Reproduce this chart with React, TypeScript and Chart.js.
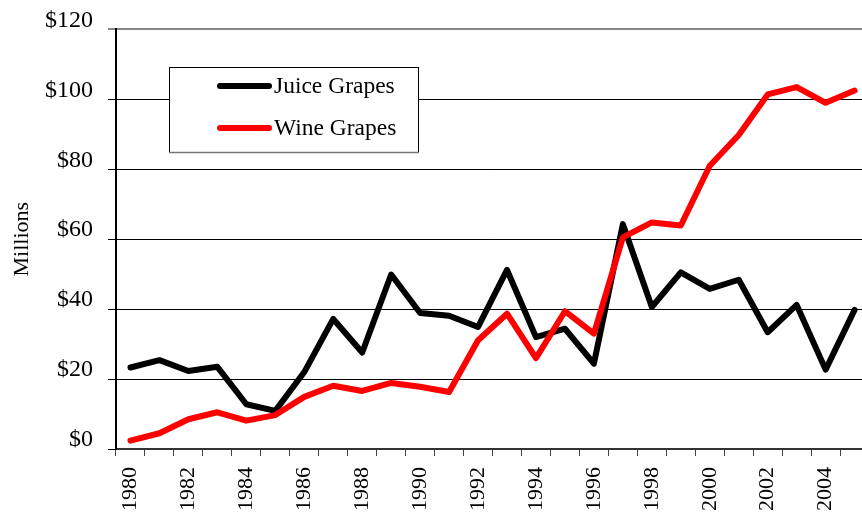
import React, { useEffect, useRef } from "react";
import { Chart, registerables } from "chart.js";

Chart.register(...registerables);

const years = [
  "1980", "1981", "1982", "1983", "1984", "1985", "1986", "1987", "1988", "1989",
  "1990", "1991", "1992", "1993", "1994", "1995", "1996", "1997", "1998", "1999",
  "2000", "2001", "2002", "2003", "2004", "2005",
];
const juiceGrapes = [
  23.3, 25.4, 22.3, 23.5, 12.8, 10.9, 22.0, 37.2, 27.6, 49.9,
  38.9, 38.1, 34.9, 51.2, 32.0, 34.4, 24.4, 64.3, 40.6, 50.5,
  45.8, 48.4, 33.4, 41.2, 22.7, 39.8,
];
const wineGrapes = [
  2.4, 4.5, 8.5, 10.5, 8.1, 9.7, 14.9, 18.1, 16.6, 18.9,
  17.8, 16.3, 31.1, 38.7, 26.0, 39.4, 33.0, 60.5, 64.8, 63.9,
  81.0, 89.8, 101.4, 103.5, 99.0, 102.5,
];
const yMin = 0;
const yMax = 120;
const yStep = 20;
const seriesNames = ["Juice Grapes", "Wine Grapes"];
const seriesColors = ["#000000", "#ff0000"];

const FONT = "'Liberation Serif', 'Times New Roman', serif";

const legendPlugin = {
  id: "boxLegend",
  afterDraw(chart: any) {
    const ctx = chart.ctx;
    const x0 = 169, y0 = 67, w = 249, h = 85;
    ctx.save();
    ctx.fillStyle = "#ffffff";
    ctx.fillRect(x0, y0, w, h);
    ctx.strokeStyle = "#000000";
    ctx.lineWidth = 1;
    ctx.strokeRect(x0 + 0.5, y0 + 0.5, w, h);
    ctx.strokeStyle = "#777777";
    ctx.lineWidth = 1.5;
    ctx.beginPath();
    ctx.moveTo(x0, y0 + h + 0.5);
    ctx.lineTo(x0 + w + 1, y0 + h + 0.5);
    ctx.stroke();
    const rows = [86, 128];
    chart.data.datasets.forEach((ds: any, i: number) => {
      const y = rows[i];
      ctx.strokeStyle = ds.borderColor;
      ctx.lineWidth = 6;
      ctx.lineCap = "round";
      ctx.beginPath();
      ctx.moveTo(220, y);
      ctx.lineTo(269, y);
      ctx.stroke();
      ctx.fillStyle = "#000000";
      ctx.font = `23.5px ${FONT}`;
      ctx.textBaseline = "middle";
      ctx.textAlign = "left";
      ctx.fillText(ds.label, 274, y + 1);
    });
    ctx.restore();
  },
};

export default function App() {
  const ref = useRef<HTMLCanvasElement | null>(null);
  useEffect(() => {
    if (!ref.current) return;
    const chart = new Chart(ref.current, {
      type: "line",
      data: {
        labels: years,
        datasets: [
          {
            label: seriesNames[0],
            data: juiceGrapes,
            borderColor: seriesColors[0],
            backgroundColor: seriesColors[0],
            borderWidth: 6,
            pointRadius: 0,
            tension: 0,
            borderJoinStyle: "round",
            borderCapStyle: "round",
            order: 2,
          },
          {
            label: seriesNames[1],
            data: wineGrapes,
            borderColor: seriesColors[1],
            backgroundColor: seriesColors[1],
            borderWidth: 6,
            pointRadius: 0,
            tension: 0,
            borderJoinStyle: "round",
            borderCapStyle: "round",
            order: 1,
          },
        ],
      },
      options: {
        responsive: false,
        animation: false,
        layout: { padding: { top: 28, left: 0, right: 0, bottom: 0 } },
        plugins: {
          legend: { display: false },
          tooltip: { enabled: false },
        },
        scales: {
          x: {
            type: "category",
            offset: true,
            grid: {
              offset: true,
              drawOnChartArea: false,
              drawTicks: true,
              tickLength: 7,
              color: "#444444",
              lineWidth: 1,
            },
            border: { color: "#333333", width: 2 },
            ticks: {
              autoSkip: false,
              minRotation: 90,
              maxRotation: 90,
              padding: 11,
              color: "#000000",
              font: { family: FONT, size: 22 },
              callback: (_v: any, i: number) => (i % 2 === 0 ? years[i] : ""),
            },
            afterFit: (scale: any) => {
              scale.height = 65;
            },
          },
          y: {
            min: yMin,
            max: yMax,
            grid: {
              color: (c: any) => (c.tick && c.tick.value === yMax ? "#888888" : "#000000"),
              lineWidth: (c: any) => (c.tick && c.tick.value === yMax ? 2 : 1),
              tickLength: 8,
              drawTicks: true,
            },
            border: { color: "#000000", width: 2 },
            ticks: {
              stepSize: yStep,
              padding: 15,
              labelOffset: -9,
              color: "#000000",
              font: { family: FONT, size: 24 },
              callback: (v: any) => "$" + v,
            },
            title: {
              display: true,
              text: "Millions",
              color: "#000000",
              font: { family: FONT, size: 22 },
              padding: { top: 9, bottom: 0 },
            },
            afterFit: (scale: any) => {
              scale.width = 116;
            },
          },
        },
      },
      plugins: [legendPlugin],
    });
    return () => chart.destroy();
  }, []);
  return (
    <div
      style={{
        position: "fixed",
        left: 0,
        top: 0,
        width: 862,
        height: 514,
        overflow: "hidden",
        background: "#ffffff",
      }}
    >
      <canvas ref={ref} width={892} height={514} style={{ display: "block" }} />
    </div>
  );
}
